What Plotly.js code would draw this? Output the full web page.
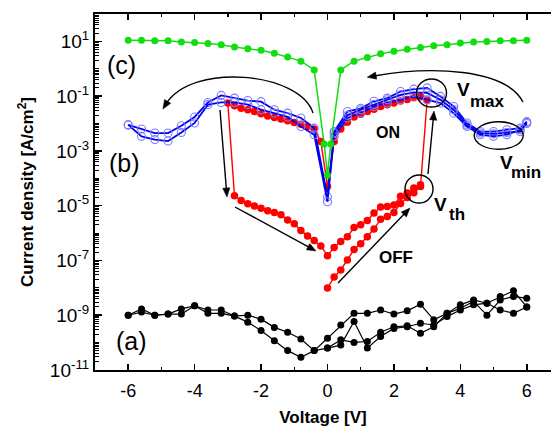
<!DOCTYPE html>
<html><head><meta charset="utf-8">
<script src="https://cdn.plot.ly/plotly-3.0.1.min.js"></script>
<style>html,body{margin:0;padding:0;background:#fff}</style>
</head><body><div id="chart" style="width:551px;height:428px"></div>
<script>
// ---- voltage grids (V) ----
const vNeg = [-6,-5.6,-5.2,-4.8,-4.4,-4,-3.6,-3.2,-2.8,-2.4,-2,-1.6,-1.2,-0.8,-0.4];
const vPos = [0,0.4,0.8,1.2,1.6,2,2.4,2.8,3.2,3.6,4,4.4,4.8,5.2,5.6,6];

// ---- (a) black: current density (A/cm2) ----
const jBlackL1 = [1.0e-9,1.7e-9,1.0e-9,1.1e-9,1.7e-9,2.2e-9,1.55e-9,1.55e-9,9.3e-10,1.0e-9,7.2e-10,3.6e-10,2.4e-10,1.35e-10,5.1e-11];
const jBlackL2 = [1.0e-9,1.3e-9,1.0e-9,1.1e-9,1.1e-9,2.2e-9,1.17e-9,1.17e-9,9.3e-10,5.6e-10,2.75e-10,1.17e-10,5.1e-11,2.9e-11,5.1e-11];
const jBlackR1 = [1.45e-10,4.4e-10,1.17e-9,1.17e-9,1.55e-9,1.1e-9,1.45e-9,2.5e-9,6.8e-10,1.17e-9,1.8e-9,3.2e-9,1.0e-9,3.6e-9,4.8e-9,4.2e-9];
const jBlackR2 = [6.3e-11,8.1e-11,5.9e-10,6.3e-11,1.66e-10,3.3e-10,3.8e-10,5.1e-10,4.4e-10,8.9e-10,1.55e-9,2.4e-9,2.75e-9,4.8e-9,7.8e-9,2.0e-9];
const jBlackR3 = [6.3e-11,1.26e-10,1.02e-10,1.1e-10,2.4e-10,3.8e-10,4.1e-10,2.2e-10,3.8e-10,1.17e-9,2.4e-9,3.6e-9,2.75e-9,1.55e-9,1.17e-9,2.0e-9];

// ---- (c) green ----
const vGreen = [-6,-5.6,-5.2,-4.8,-4.4,-4,-3.6,-3.2,-2.8,-2.4,-2,-1.6,-1.2,-0.8,-0.4,-0.1,0,0.1,0.4,0.8,1.2,1.6,2,2.4,2.8,3.2,3.6,4,4.4,4.8,5.2,5.6,6];
const jGreen = [11,11,10.5,10.5,9.5,9.1,8.3,7.6,6.2,5.4,4.7,3.7,2.7,1.9,0.91,1.8e-3,1.3e-4,1.8e-3,0.91,1.9,2.6,3.5,4.4,5.2,6.0,6.9,7.6,8.7,9.5,10,10.5,10.5,11];

// ---- (b) blue open circles ----
const vBlueR = [0.2,0.6,1,1.4,1.8,2.2,2.6,3,3.4,3.8,4.2,4.6,5,5.4,5.8,6];
const jBlueA = [8.9e-3,6.3e-3,4.5e-3,4.5e-3,8.3e-3,1.74e-2,5.9e-2,1.07e-1,8.5e-2,6.9e-2,6.3e-2,3.2e-2,2.4e-2,1.6e-2,6.8e-3];
const jBlueB = [8.9e-3,3.4e-3,2.6e-3,2.3e-3,4.7e-3,1.05e-2,4.9e-2,5.9e-2,5.9e-2,4.9e-2,3.2e-2,2.4e-2,1.74e-2,7.8e-3,3.9e-3];
const jBlueDip = [2.1e-5,1.4e-5];
const jBlueUp  = [5.1e-3,2.75e-2,3.6e-2,6.5e-2,8.5e-2,1.48e-1,1.8e-1,2.0e-1,9.8e-2,4.2e-2,1.05e-2,5.1e-3,5.1e-3,5.9e-3,6.8e-3,1.17e-2];
const jBlueLow = [3.4e-3,1.6e-2,2.4e-2,4.2e-2,5.6e-2,7.4e-2,9.8e-2,7.4e-2,5.6e-2,2.4e-2,7.8e-3,3.9e-3,3.4e-3,3.9e-3,5.9e-3,1.0e-2];
const jBlueMid = [4.5e-3,2.0e-2,3.2e-2,5.0e-2,7.4e-2,1.12e-1,1.38e-1,1.32e-1,7.4e-2,3.2e-2,8.9e-3,4.5e-3,4.2e-3,4.7e-3,5.1e-3,1.1e-2];

// ---- (b) red filled circles (sweep order) ----
const vRedOffUp1 = [0,0.2,0.4,0.6,0.8,1,1.2,1.4,1.6,1.8,2,2.2,2.4,2.6,2.8];
const jRedOffUp1 = [9.8e-9,2.5e-8,4.5e-8,1.05e-7,2.5e-7,4.1e-7,7.4e-7,1.4e-6,3.2e-6,4.0e-6,5.6e-6,1.2e-5,2.0e-5,3.0e-5,5.0e-5];
const vRedOnRight = [3,2.8,2.6,2.4,2.2,2,1.8,1.6,1.4,1.2,1,0.8,0.6,0.4,0.2,0];
const jRedOnRight = [7.1e-2,9.5e-2,8.7e-2,7.6e-2,6.6e-2,5.6e-2,4.9e-2,4.2e-2,3.3e-2,2.75e-2,2.2e-2,1.74e-2,1.12e-2,6.3e-3,2.2e-3,5.0e-5];
const vRedOnLeft = [-0.2,-0.4,-0.6,-0.8,-1,-1.2,-1.4,-1.6,-1.8,-2,-2.2,-2.4,-2.6,-2.8,-3];
const jRedOnLeft = [2.2e-3,6.3e-3,7.8e-3,9.5e-3,1.1e-2,1.26e-2,1.45e-2,1.66e-2,1.9e-2,2.3e-2,2.75e-2,3.2e-2,3.6e-2,4.5e-2,5.6e-2];
const vRedOffLeft = [-2.8,-2.6,-2.4,-2.2,-2,-1.8,-1.6,-1.4,-1.2,-1,-0.8,-0.6,-0.4,-0.2,0];
const jRedOffLeft = [2.3e-5,1.55e-5,1.17e-5,9.8e-6,8.1e-6,6.6e-6,5.6e-6,4.7e-6,3.0e-6,2.2e-6,1.23e-6,7.9e-7,5.4e-7,3.4e-7,1.5e-7];
const vRedOffUp2 = [0.2,0.4,0.6,0.8,1,1.2,1.4,1.6,1.8,2,2.2,2.4,2.6,2.8];
const jRedOffUp2 = [3.0e-7,4.9e-7,7.4e-7,1.6e-6,2.0e-6,2.9e-6,5.4e-6,8.9e-6,9.3e-6,1.07e-5,2.2e-5,2.9e-5,4.4e-5,5.8e-5];

// ---- tick labels ----
const yTickVals = [1e-11,1e-9,1e-7,1e-5,1e-3,1e-1,1e1];
const yTickText = ['10<sup>-11</sup>','10<sup>-9</sup>','10<sup>-7</sup>','10<sup>-5</sup>','10<sup>-3</sup>','10<sup>-1</sup>','10<sup>1</sup>'];
const xTickVals = [-6,-4,-2,0,2,4,6];
const xTickText = ['-6','-4','-2','0','2','4','6'];

// ---------------------------------------------------------------
const FONT = 'Arial, "Liberation Sans", Helvetica, sans-serif';
const BLACK = {mode:'lines+markers', line:{color:'#000',width:1.2}, marker:{color:'#000',size:7}};
const GREEN = {mode:'lines+markers', line:{color:'#11dd11',width:1.5}, marker:{color:'#11dd11',size:7}};
const BLUE  = {mode:'lines+markers', line:{color:'#0000ee',width:1.8}, marker:{symbol:'circle-open',color:'#7b7bff',size:8,line:{width:1.1}}};
const RED   = {mode:'lines+markers', line:{color:'#ff0000',width:1.4}, marker:{color:'#ff0000',size:7.5}};
function tr(x,y,st){return Object.assign({x:x,y:y,type:'scatter',hoverinfo:'x+y'},JSON.parse(JSON.stringify(st)));}

const traces = [
  tr(vNeg.concat(vPos), jBlackL1.concat(jBlackR1), BLACK),
  tr(vNeg.concat(vPos), jBlackL2.concat(jBlackR2), BLACK),
  tr(vPos, jBlackR3, BLACK),
  tr(vRedOffUp1.concat(vRedOnRight, vRedOnLeft, vRedOffLeft, vRedOffUp2),
     jRedOffUp1.concat(jRedOnRight, jRedOnLeft, jRedOffLeft, jRedOffUp2), RED),
  tr(vNeg.concat([0], vBlueR), jBlueA.concat([jBlueDip[0]], jBlueUp), BLUE),
  tr(vNeg.concat([0], vBlueR), jBlueB.concat([jBlueDip[1]], jBlueLow), BLUE),
  tr(vBlueR, jBlueMid, BLUE),
  tr(vGreen, jGreen, GREEN)
];

// pixel -> paper helpers for decorations
const PL=95, PR=551, PT=14, PB=370;
const px = x => (x-PL)/(PR-PL);
const py = y => (PB-y)/(PB-PT);
const P = (x,y) => px(x).toFixed(4)+','+py(y).toFixed(4);

function label(text, x, y, size, bold, anchor){
  return {text: bold?'<b>'+text+'</b>':text, x:px(x), y:py(y), xref:'paper', yref:'paper',
          showarrow:false, xanchor:anchor||'center', yanchor:'middle',
          font:{family:FONT,size:size,color:'#000'}};
}
// arrowhead triangle at (hx,hy) pointing away from (fx,fy)
function head(hx,hy,fx,fy){
  const dx=hx-fx, dy=hy-fy, L=Math.hypot(dx,dy), ux=dx/L, uy=dy/L;
  const len=9, w=3.6, bx=hx-ux*len, by=hy-uy*len;
  return {type:'path', xref:'paper', yref:'paper', fillcolor:'#000', line:{color:'#000',width:0.5},
          path:'M'+P(hx,hy)+' L'+P(bx-uy*w,by+ux*w)+' L'+P(bx+uy*w,by-ux*w)+' Z'};
}
function straightArrow(tx,ty,hx,hy){
  const dx=hx-tx, dy=hy-ty, L=Math.hypot(dx,dy);
  const ex=hx-dx/L*7, ey=hy-dy/L*7;
  return [{type:'line', xref:'paper', yref:'paper', x0:px(tx), y0:py(ty), x1:px(ex), y1:py(ey), line:{color:'#000',width:1.4}},
          head(hx,hy,tx,ty)];
}
function curvedArrow(p0,c1,c2,p3){
  return [{type:'path', xref:'paper', yref:'paper', line:{color:'#000',width:1.4},
           path:'M'+P(p0[0],p0[1])+' C'+P(c1[0],c1[1])+' '+P(c2[0],c2[1])+' '+P(p3[0],p3[1])},
          head(p3[0]+(p3[0]-c2[0])*0.12, p3[1]+(p3[1]-c2[1])*0.12, c2[0], c2[1])];
}
function ellipse(cx,cy,rx,ry){
  return {type:'circle', xref:'paper', yref:'paper', x0:px(cx-rx), x1:px(cx+rx), y0:py(cy+ry), y1:py(cy-ry),
          line:{color:'#000',width:1.4}};
}

const annotations = [
  label('(c)',121,65,25,false),
  label('(b)',124,163,25,false),
  label('(a)',131,341,25,false),
  label('ON',388,132,16,true),
  label('OFF',396,257,17,true),
  label('V',455,90,19,true,'left'),
  label('max',468,101,17,true,'left'),
  label('V',498,162,19,true,'left'),
  label('min',509,172,17,true,'left'),
  label('V',432,205,19,true,'left'),
  label('th',447,214,17,true,'left')
];

const shapes = [].concat(
  curvedArrow([313,113],[300,72],[192,62],[166,104]),
  curvedArrow([523,102],[505,68],[430,66],[374,76]),
  straightArrow(220,110,227,197),
  straightArrow(235,207,316,251),
  straightArrow(338,283,410,208),
  straightArrow(428,174,434,111),
  [ellipse(431.5,93,15,14), ellipse(498.7,135.5,24.5,13.8), ellipse(419,189,14,14)]
);

const layout = {
  width:551, height:428,
  margin:{l:95, r:0, t:14, b:58},
  showlegend:false,
  paper_bgcolor:'#fff', plot_bgcolor:'#fff',
  font:{family:FONT, color:'#000'},
  xaxis:{
    range:[-7,6.73], tickmode:'array', tickvals:xTickVals, ticktext:xTickText,
    ticks:'inside', ticklen:6, tickwidth:1.5, tickcolor:'#000', ticklabelstandoff:3,
    minor:{tickmode:'linear', tick0:0, dtick:1, ticks:'inside', ticklen:3, tickwidth:1.5, tickcolor:'#000'},
    showline:true, linewidth:2, linecolor:'#000', mirror:'allticks',
    showgrid:false, zeroline:false,
    tickfont:{family:FONT,size:18,color:'#000'},
    title:{text:'<b>Voltage [V]</b>', font:{family:FONT,size:17,color:'#000'}, standoff:12}
  },
  yaxis:{
    type:'log', range:[-11,2.0], tickmode:'array', tickvals:yTickVals, ticktext:yTickText,
    ticks:'inside', ticklen:7, tickwidth:1.5, tickcolor:'#000',
    minor:{dtick:'D1', ticks:'inside', ticklen:4, tickwidth:1, tickcolor:'#000'},
    showline:true, linewidth:2, linecolor:'#000', mirror:false,
    showgrid:false, zeroline:false,
    tickfont:{family:FONT,size:19,color:'#000'},
    title:{text:'<b>Current density [A/cm<sup>2</sup>]</b>', font:{family:FONT,size:17,color:'#000'}, standoff:12}
  },
  annotations:annotations,
  shapes:shapes
};

Plotly.newPlot('chart', traces, layout, {staticPlot:true, displayModeBar:false});
</script></body></html>
